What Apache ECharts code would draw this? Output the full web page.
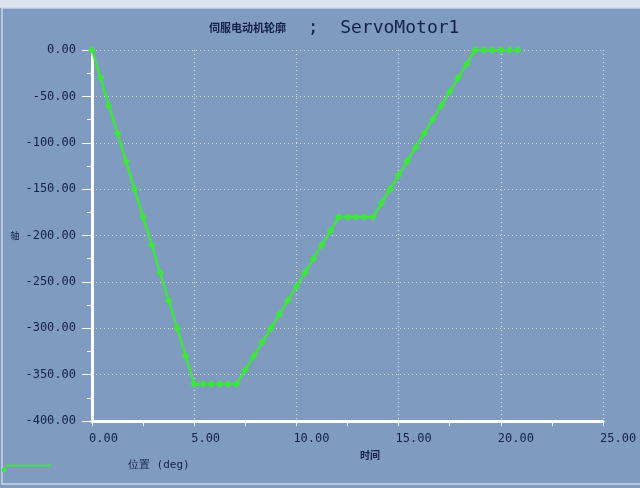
<!DOCTYPE html>
<html><head><meta charset="utf-8">
<script src="https://cdn.jsdelivr.net/npm/echarts@6/dist/echarts.min.js"></script>
<style>html,body{margin:0;padding:0;background:#7f9bc0;}#c{width:640px;height:488px;}</style>
</head><body><div id="c"></div>
<script>
var titleCn = '伺服电动机轮廓';
var titleEn = 'ServoMotor1';
var xName = '时间';
var yName = '轴';
var seriesName = '位置 (deg)';
var times = [0, 0.42, 0.83, 1.25, 1.67, 2.08, 2.5, 2.92, 3.33, 3.75, 4.17, 4.58, 5, 5.42, 5.83, 6.25, 6.67, 7.08, 7.5, 7.92, 8.33, 8.75, 9.17, 9.58, 10, 10.42, 10.83, 11.25, 11.67, 12.08, 12.5, 12.92, 13.33, 13.75, 14.17, 14.58, 15, 15.42, 15.83, 16.25, 16.67, 17.08, 17.5, 17.92, 18.33, 18.75, 19.17, 19.58, 20, 20.42, 20.83];
var position = [0, -30, -60, -90, -120, -150, -180, -210, -240, -270, -300, -330, -360, -360, -360, -360, -360, -360, -345, -330, -315, -300, -285, -270, -255, -240, -225, -210, -195, -180, -180, -180, -180, -180, -165, -150, -135, -120, -105, -90, -75, -60, -45, -30, -15, 0, 0, 0, 0, 0, 0];

var data = times.map(function(t, i){ return [t, position[i]]; });
var green = '#3fe53f';
var ink = '#14204a';
var chart = echarts.init(document.getElementById('c'), null, {renderer:'canvas'});
chart.setOption({
  backgroundColor: '#7f9bc0',
  animation: false,
  title: {
    text: '{a|' + titleCn + '}{b|  ;  ' + titleEn + '}',
    left: 204, top: 14,
    textStyle: {
      rich: {
        a: {fontSize: 11, fontWeight: 'bold', color: ink, fontFamily: 'Noto Sans CJK SC'},
        b: {fontSize: 18, color: ink, fontFamily: 'DejaVu Sans Mono', fontWeight: 'lighter'}
      }
    }
  },
  grid: {left: 92, right: 37, top: 50, bottom: 67},
  xAxis: {
    type: 'value', min: 0, max: 25, interval: 5,
    name: xName, nameLocation: 'middle', nameGap: 27,
    nameTextStyle: {color: ink, fontSize: 10, fontWeight: 'bold', fontFamily: 'Noto Sans CJK SC', padding: [0, 0, 0, 45]},
    axisLine: {onZero: false, lineStyle: {color: '#ffffff', width: 3}},
    axisTick: {show: true, length: 5, lineStyle: {color: '#ffffff', width: 1}},
    minorTick: {show: true, splitNumber: 2, length: 5, lineStyle: {color: '#ffffff', width: 1}},
    axisLabel: {color: ink, fontSize: 12, fontFamily: 'DejaVu Sans Mono', margin: 12, align: 'left', padding: [0, 0, 0, -3],
      formatter: function(v){ return v.toFixed(2); }},
    splitLine: {show: true, lineStyle: {color: '#d4dde9', type: [1, 3], width: 1.2}}
  },
  yAxis: {
    type: 'value', min: -400, max: 0, interval: 50,
    name: yName, nameLocation: 'middle', nameGap: 72, nameRotate: 0,
    nameTextStyle: {color: ink, fontSize: 9, fontFamily: 'Noto Sans CJK SC'},
    axisLine: {onZero: false, lineStyle: {color: '#ffffff', width: 3}},
    axisTick: {show: true, length: 10, lineStyle: {color: '#ffffff', width: 1}},
    minorTick: {show: true, splitNumber: 2, length: 5, lineStyle: {color: '#ffffff', width: 1}},
    axisLabel: {color: ink, fontSize: 12, fontFamily: 'DejaVu Sans Mono', margin: 16, padding: [0, 0, 8, 0],
      formatter: function(v){ return v.toFixed(2); }},
    splitLine: {show: true, lineStyle: {color: '#d4dde9', type: [1, 3], width: 1.2}}
  },
  legend: {
    show: true, left: 0, bottom: 12, itemWidth: 46, itemHeight: 6, itemGap: 10,
    icon: 'path://M0,2 L46,2 L46,4 L0,4 Z',
    data: [{name: seriesName}],
    textStyle: {color: ink, fontSize: 11, fontFamily: 'DejaVu Sans Mono', padding: [0, 0, 0, 72]}
  },
  series: [{
    name: seriesName, type: 'line', data: data,
    lineStyle: {color: green, width: 2.5},
    itemStyle: {color: green},
    symbol: 'diamond', symbolSize: 8, showSymbol: true, showAllSymbol: true
  }],
  graphic: [
    {type: 'rect', shape: {x: 0, y: 0, width: 640, height: 8}, style: {fill: '#dbe4ee'}, z: 100},
    {type: 'rect', shape: {x: 2, y: 8, width: 640, height: 476}, style: {fill: 'none', stroke: '#c9d6e6', lineWidth: 1.5}, z: 100},
    {type: 'circle', shape: {cx: 4, cy: 470, r: 2.5}, style: {fill: green}, z: 100}
  ]
});
</script></body></html>
